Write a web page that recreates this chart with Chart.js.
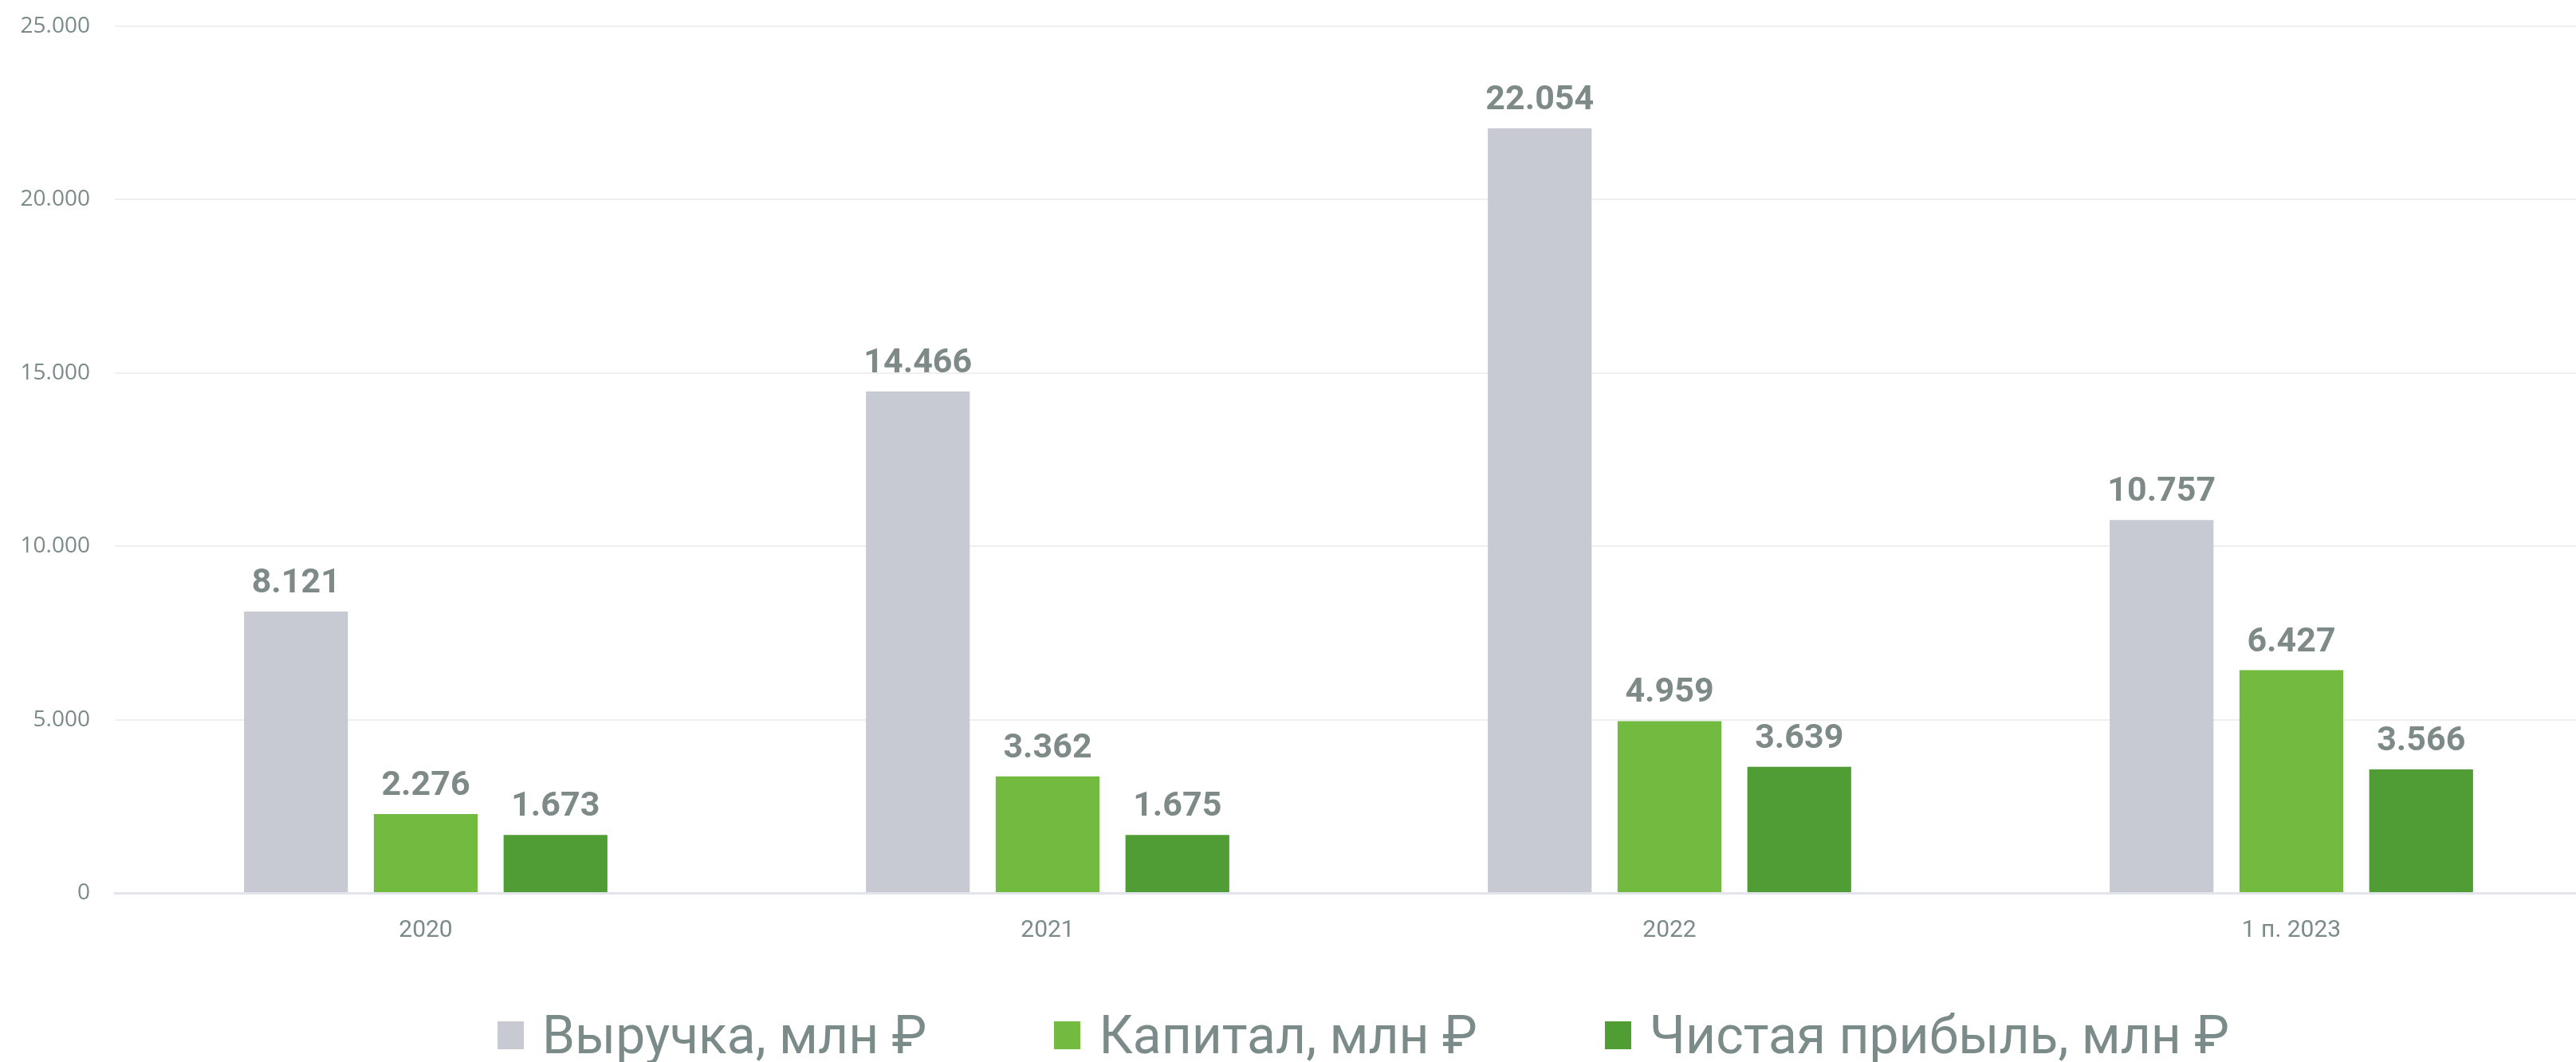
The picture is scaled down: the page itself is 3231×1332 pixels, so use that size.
<!DOCTYPE html>
<html>
<head>
<meta charset="utf-8">
<script src="https://cdn.jsdelivr.net/npm/chart.js@4"></script>
<style>
  html, body { margin: 0; padding: 0; background: #fff; overflow: hidden; }
  #wrap { position: absolute; left: 0; top: 0; width: 3300px; height: 1228px; }
  #legend {
    position: absolute; left: 0; top: 1262px; width: 3420px; height: 72px;
    display: flex; justify-content: center; align-items: center;
    font-family: Roboto, "Noto Sans", sans-serif; font-size: 66px; color: #7b8b89;
  }
  #legend .item { display: flex; align-items: center; }
  #legend .item + .item { margin-left: 160px; }
  #legend .box { width: 33px; height: 35px; margin-right: 23px; }
</style>
</head>
<body>
<div id="wrap"><canvas id="finChart"></canvas></div>
<div id="legend"></div>
<script>
// данные графика
const categories = ['2020', '2021', '2022', '1 п. 2023'];
const revenue = [8121, 14466, 22054, 10757];
const capital = [2276, 3362, 4959, 6427];
const netProfit = [1673, 1675, 3639, 3566];
const seriesNames = ['Выручка, млн ₽', 'Капитал, млн ₽', 'Чистая прибыль, млн ₽'];
const yMax = 25000;
const yStep = 5000;

const textColor = '#7b8b89';

// 25000 -> "25.000"
function fmt(n) {
  return String(n).replace(/\B(?=(\d{3})+(?!\d))/g, '.');
}

// подписи значений над столбцами
const valueLabels = {
  id: 'valueLabels',
  afterDatasetsDraw(chart) {
    const ctx = chart.ctx;
    ctx.save();
    ctx.font = 'bold 43px Roboto';
    ctx.fillStyle = '#7d8a87';
    ctx.textAlign = 'center';
    ctx.textBaseline = 'alphabetic';
    chart.data.datasets.forEach((ds, i) => {
      chart.getDatasetMeta(i).data.forEach((bar, j) => {
        ctx.fillText(fmt(ds.data[j]), bar.x, bar.y - 24);
      });
    });
    ctx.restore();
  }
};

const finCtx = document.getElementById('finChart').getContext('2d');
const finChart = new Chart(finCtx, {
  type: 'bar',
  data: {
    labels: categories,
    datasets: [
      { label: seriesNames[0], data: revenue, backgroundColor: '#c7cad3' },
      { label: seriesNames[1], data: capital, backgroundColor: '#73ba41' },
      { label: seriesNames[2], data: netProfit, backgroundColor: '#4f9d34' }
    ]
  },
  options: {
    responsive: true,
    maintainAspectRatio: false,
    animation: false,
    layout: { padding: { left: 0, right: 36, top: 33, bottom: 22 } },
    datasets: {
      bar: { categoryPercentage: 0.626, barPercentage: 0.8 }
    },
    plugins: {
      legend: { display: false },
      tooltip: { enabled: false }
    },
    scales: {
      x: {
        grid: { display: false },
        border: { display: true, color: '#e2e6ec', width: 3 },
        ticks: {
          color: textColor,
          padding: 21,
          font: { family: 'Roboto', size: 30 }
        }
      },
      y: {
        min: 0,
        max: yMax,
        afterFit(scale) {
          scale.width = 144;
          scale.paddingTop = 0;
          scale.paddingBottom = 0;
        },
        border: { display: false },
        grid: { color: '#efefef', lineWidth: 2, drawTicks: false },
        ticks: {
          stepSize: yStep,
          color: textColor,
          padding: 31,
          font: { family: '"Open Sans"', size: 28 },
          callback: (v) => fmt(v)
        }
      }
    }
  },
  plugins: [valueLabels]
});

// легенда
const legendEl = document.getElementById('legend');
finChart.data.datasets.forEach((ds) => {
  const item = document.createElement('div');
  item.className = 'item';
  const box = document.createElement('span');
  box.className = 'box';
  box.style.background = ds.backgroundColor;
  const txt = document.createElement('span');
  txt.textContent = ds.label;
  item.appendChild(box);
  item.appendChild(txt);
  legendEl.appendChild(item);
});
</script>
</body>
</html>
